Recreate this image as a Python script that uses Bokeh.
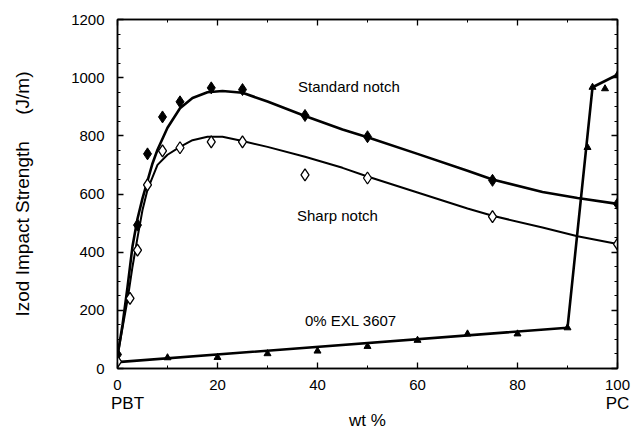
from bokeh.plotting import figure
from bokeh.models import (Range1d, LinearAxis, SingleIntervalTicker, FixedTicker,
                          CustomLabelingPolicy)
from bokeh.core.properties import value
from bokeh.embed import file_html
from bokeh.resources import INLINE

# ---- data ----
std_x = [0, 4, 6, 9, 12.5, 18.75, 25, 37.5, 50, 75, 100]
std_y = [48, 493, 738, 865, 917, 965, 959, 870, 797, 647, 566]

sharp_x = [0, 2.5, 4, 6, 9, 12.5, 18.75, 25, 37.5, 50, 75, 100]
sharp_y = [24, 241, 407, 631, 748, 759, 779, 779, 666, 655, 522, 428]

exl_x = [10, 20, 30, 40, 50, 60, 70, 80, 90, 94, 95, 97.5, 100]
exl_y = [37, 38, 51, 60, 76, 97, 119, 119, 140, 760, 967, 962, 1010]

# fitted curves as drawn in the figure
std_fit_x = [0, 1, 2, 3, 4, 5, 6, 7, 8, 10, 12.5, 15, 18, 21, 25, 30, 37.5, 45, 50, 60, 70, 75, 85, 92, 100]
std_fit_y = [45, 150, 280, 420, 515, 585, 645, 705, 752, 828, 895, 930, 950, 954, 948, 918, 868, 822, 795, 738, 680, 650, 607, 586, 566]

sharp_fit_x = [0, 1, 2, 3, 4, 5, 6, 8, 10, 12.5, 15, 18, 21, 25, 30, 37.5, 45, 50, 60, 70, 75, 85, 92, 100]
sharp_fit_y = [40, 140, 235, 350, 450, 545, 615, 700, 735, 762, 785, 797, 797, 782, 762, 728, 690, 660, 605, 550, 525, 485, 455, 428]

exl_line_x = [0, 90, 95, 100]
exl_line_y = [22, 140, 967, 1010]

x_ticks = [0, 20, 40, 60, 80, 100]
y_ticks = [0, 200, 400, 600, 800, 1000, 1200]
end_label_pos = [2, 100]
end_labels = ["PBT", "PC"]

FONT = "Liberation Sans"
NBSP = "\u00a0"

p = figure(width=638, height=432, output_backend="svg", toolbar_location=None,
           x_range=Range1d(0, 100), y_range=Range1d(0, 1200),
           min_border_left=117, min_border_right=21, min_border_top=19,
           min_border_bottom=63)

p.background_fill_color = "white"
p.border_fill_color = "white"
p.outline_line_color = "black"
p.outline_line_width = 1.5
p.xgrid.grid_line_color = None
p.ygrid.grid_line_color = None

no_labels = CustomLabelingPolicy(code="return new Set()")

def style_axis(ax, ticks=None):
    ax.major_tick_in = 6
    ax.major_tick_out = 0
    ax.minor_tick_in = 3
    ax.minor_tick_out = 0
    ax.axis_line_color = "black"
    ax.axis_line_width = 1.5
    ax.major_tick_line_color = "black"
    ax.major_tick_line_width = 1.3
    ax.minor_tick_line_color = "black"
    ax.major_label_text_font = FONT
    ax.major_label_text_color = "black"
    ax.major_label_text_font_size = "15px"
    if ticks is not None:
        # frame-side axis that carries ticks only
        ax.major_label_overrides = {t: "" for t in ticks}
        ax.major_label_policy = no_labels
        ax.major_label_standoff = 0

p.xaxis.ticker = SingleIntervalTicker(interval=20, num_minor_ticks=2)
p.yaxis.ticker = SingleIntervalTicker(interval=200, num_minor_ticks=4)
style_axis(p.xaxis[0])
style_axis(p.yaxis[0])
p.xaxis.major_label_standoff = 11
p.yaxis.major_label_standoff = 13

p.yaxis.axis_label = "Izod" + NBSP + "Impact" + NBSP + "Strength" + NBSP * 5 + "(J/m)"
p.yaxis.axis_label_text_font = FONT
p.yaxis.axis_label_text_font_size = "19px"
p.yaxis.axis_label_text_font_style = "normal"
p.yaxis.axis_label_text_color = "black"
p.yaxis.axis_label_standoff = 35

right = LinearAxis(ticker=SingleIntervalTicker(interval=200, num_minor_ticks=4))
style_axis(right, ticks=y_ticks)
p.add_layout(right, "right")
top = LinearAxis(ticker=SingleIntervalTicker(interval=20, num_minor_ticks=2))
style_axis(top, ticks=x_ticks)
p.add_layout(top, "above")

# second bottom axis carrying the PBT / PC end labels and "wt %"
ends = LinearAxis(ticker=FixedTicker(ticks=end_label_pos, minor_ticks=[]),
                  major_label_overrides=dict(zip(end_label_pos, end_labels)))
ends.axis_line_color = None
ends.major_tick_line_color = None
ends.minor_tick_line_color = None
ends.major_tick_in = 0
ends.major_tick_out = 0
ends.major_label_standoff = 1
ends.major_label_text_font = FONT
ends.major_label_text_font_size = "17px"
ends.major_label_text_color = "black"
ends.axis_label = "wt %"
ends.axis_label_text_font = FONT
ends.axis_label_text_font_size = "17px"
ends.axis_label_text_font_style = "normal"
ends.axis_label_text_color = "black"
ends.axis_label_standoff = -5
p.add_layout(ends, "below")

# curves
p.line(std_fit_x, std_fit_y, line_color="black", line_width=2.6)
p.line(sharp_fit_x, sharp_fit_y, line_color="black", line_width=2.0)
p.line(exl_line_x, exl_line_y, line_color="black", line_width=2.6)

# markers
p.scatter(std_x, std_y, marker="diamond", size=12, fill_color="black",
          line_color="black")
p.scatter(sharp_x, sharp_y, marker="diamond", size=12, fill_color="white",
          line_color="black", line_width=1.3)
p.scatter(exl_x, exl_y, marker="triangle", size=7, fill_color="black",
          line_color="black")

# in-plot labels
p.text(x=[36.1], y=[970], text=["Standard notch"], text_font=value(FONT),
       text_font_size="15px", text_baseline="middle", text_align="left",
       text_color="black")
p.text(x=[35.9], y=[525], text=["Sharp notch"], text_font=value(FONT),
       text_font_size="15px", text_baseline="middle", text_align="left",
       text_color="black")
p.text(x=[37.5], y=[165], text=["0% EXL 3607"], text_font=value(FONT),
       text_font_size="15px", text_baseline="middle", text_align="left",
       text_color="black")

open("out.html", "w").write(file_html(p, INLINE))
